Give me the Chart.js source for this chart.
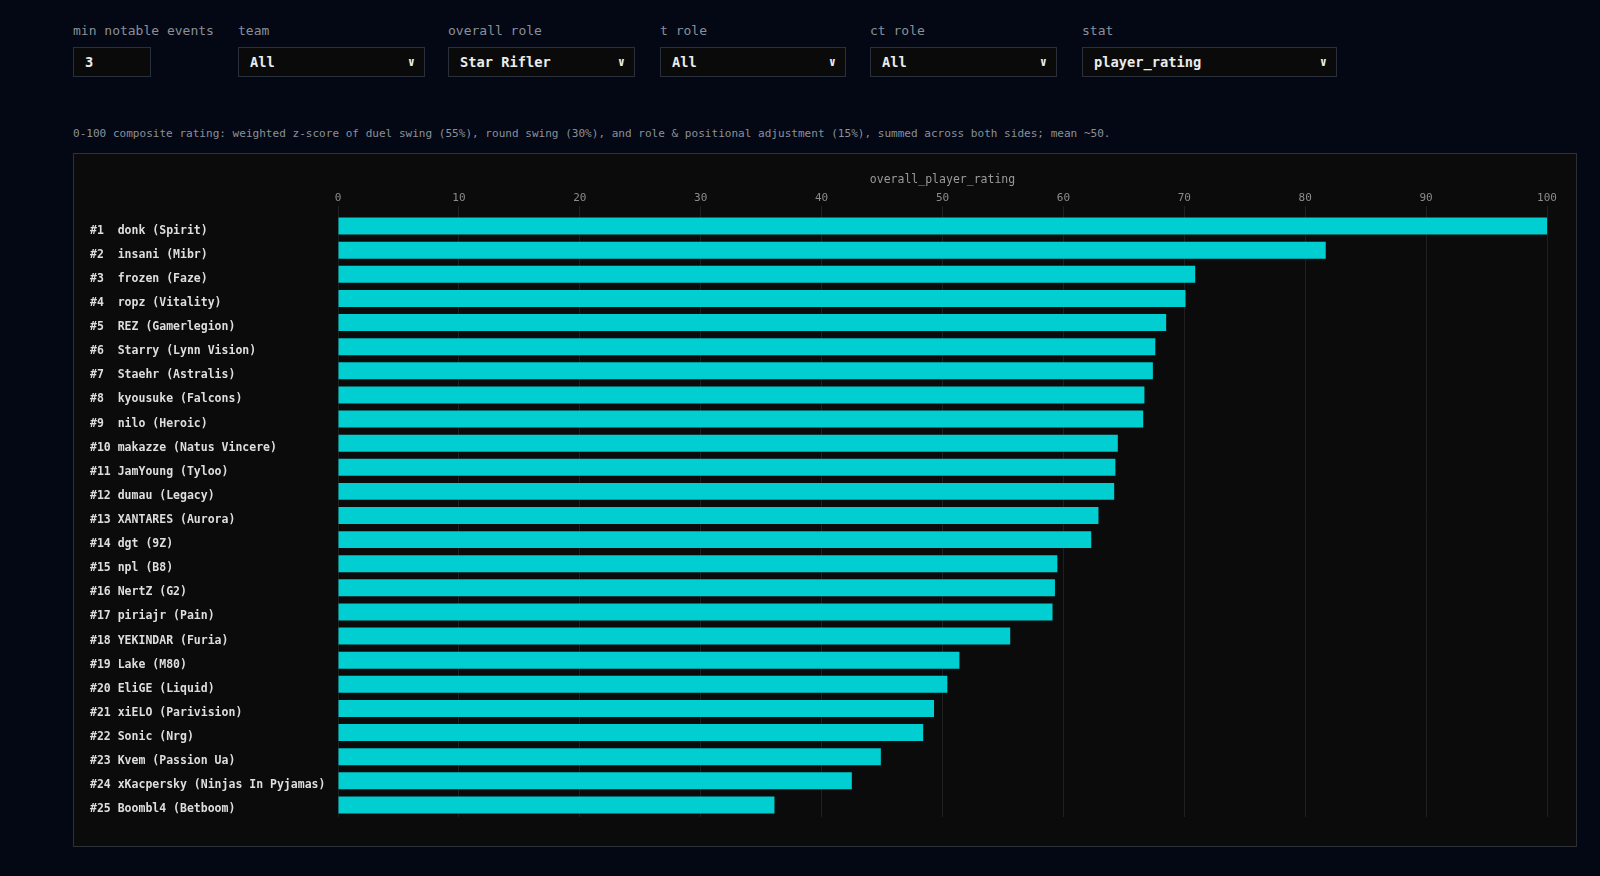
<!DOCTYPE html>
<html>
<head>
<meta charset="utf-8">
<script src="https://cdn.jsdelivr.net/npm/chart.js@4.4.1/dist/chart.umd.min.js"></script>
<style>
  html, body { margin:0; padding:0; background:#030814; width:1600px; height:876px; overflow:hidden; font-family:"DejaVu Sans Mono", monospace; }
  .lbl { position:absolute; top:22px; font-size:13px; color:#8a9099; line-height:17px; white-space:nowrap; }
  .fld { position:absolute; top:47px; height:30px; box-sizing:border-box; background:#0a0a0a; border:1px solid #2a3039; color:#ececec;
         font-family:"DejaVu Sans Mono", monospace; font-size:13.7px; font-weight:bold; line-height:28px; padding:0 0 0 11px; white-space:nowrap; }
  .fld .chev { position:absolute; right:9px; top:0; font-size:12px; font-weight:bold; }
  .desc { position:absolute; left:73px; top:125px; font-size:11.05px; color:#8a9099; white-space:nowrap; line-height:17px; }
  #box { position:absolute; left:73px; top:153px; width:1504px; height:694px; box-sizing:border-box; border:1px solid #2c3138; background:#0b0b0b; }
  #wrap { position:absolute; left:0; top:0; width:1502px; height:692px; }
</style>
</head>
<body>
<div class="lbl" style="left:73px">min notable events</div>
<div class="lbl" style="left:238px">team</div>
<div class="lbl" style="left:448px">overall role</div>
<div class="lbl" style="left:660px">t role</div>
<div class="lbl" style="left:870px">ct role</div>
<div class="lbl" style="left:1082px">stat</div>

<div class="fld" style="left:73px;width:78px">3</div>
<div class="fld" style="left:238px;width:187px">All<span class="chev">&#x2228;</span></div>
<div class="fld" style="left:448px;width:187px">Star Rifler<span class="chev">&#x2228;</span></div>
<div class="fld" style="left:660px;width:186px">All<span class="chev">&#x2228;</span></div>
<div class="fld" style="left:870px;width:187px">All<span class="chev">&#x2228;</span></div>
<div class="fld" style="left:1082px;width:255px">player_rating<span class="chev">&#x2228;</span></div>

<div class="desc">0-100 composite rating: weighted z-score of duel swing (55%), round swing (30%), and role &amp; positional adjustment (15%), summed across both sides; mean ~50.</div>

<div id="box"><div id="wrap"><canvas id="c"></canvas></div></div>

<script>
const players = ["donk","insani","frozen","ropz","REZ","Starry","Staehr","kyousuke","nilo","makazze","JamYoung","dumau","XANTARES","dgt","npl","NertZ","piriajr","YEKINDAR","Lake","EliGE","xiELO","Sonic","Kvem","xKacpersky","Boombl4"];
const teams = ["Spirit","Mibr","Faze","Vitality","Gamerlegion","Lynn Vision","Astralis","Falcons","Heroic","Natus Vincere","Tyloo","Legacy","Aurora","9Z","B8","G2","Pain","Furia","M80","Liquid","Parivision","Nrg","Passion Ua","Ninjas In Pyjamas","Betboom"];
const ratings = [100, 81.7, 70.9, 70.1, 68.5, 67.6, 67.4, 66.7, 66.6, 64.5, 64.3, 64.2, 62.9, 62.3, 59.5, 59.3, 59.1, 55.6, 51.4, 50.4, 49.3, 48.4, 44.9, 42.5, 36.1];
const axisTitle = "overall_player_rating";
const xTicks = [0,10,20,30,40,50,60,70,80,90,100];

const labels = players.map((p, i) => {
  const r = "#" + (i + 1);
  return (r.length < 3 ? r + "  " : r + " ") + p + " (" + teams[i] + ")";
});

const MONO = '"DejaVu Sans Mono", monospace';
new Chart(document.getElementById('c'), {
  type: 'bar',
  data: {
    labels: labels,
    datasets: [{
      data: ratings,
      backgroundColor: '#00ced1',
      borderWidth: 0,
      categoryPercentage: 0.8,
      barPercentage: 0.88
    }]
  },
  options: {
    indexAxis: 'y',
    responsive: true,
    maintainAspectRatio: false,
    animation: false,
    devicePixelRatio: 1,
    layout: { padding: { left: 16, right: 29, top: 15, bottom: 29 } },
    plugins: { legend: { display: false }, tooltip: { enabled: false } },
    scales: {
      x: {
        position: 'top',
        min: 0, max: 100,
        afterBuildTicks: (s) => { s.ticks = xTicks.map(v => ({ value: v })); },
        afterFit: (s) => { s.height = 45; },
        title: { display: true, text: axisTitle, color: '#9a9a9a', font: { family: MONO, size: 11.5 }, padding: { top: 4, bottom: 0 } },
        ticks: { color: '#8c8c8c', font: { family: MONO, size: 11 }, padding: 1 },
        grid: { color: '#1f1f1f', lineWidth: 1, drawTicks: true, tickLength: 8, tickColor: '#1f1f1f' },
        border: { display: false }
      },
      y: {
        afterFit: (s) => { s.width = 248; },
        ticks: { color: '#dedede', crossAlign: 'far', labelOffset: 4.5, font: { family: MONO, size: 11.5, weight: 'bold' }, padding: 0, autoSkip: false },
        grid: { display: false },
        border: { display: false }
      }
    }
  }
});
</script>
</body>
</html>
